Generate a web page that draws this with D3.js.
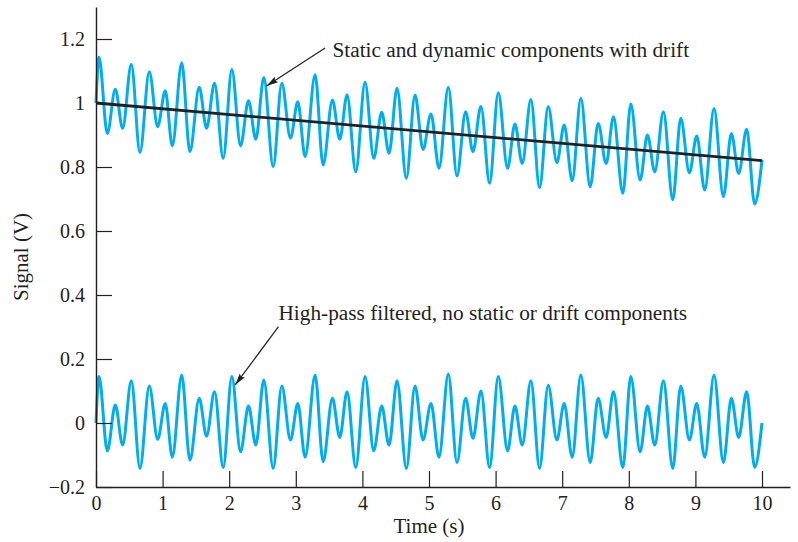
<!DOCTYPE html>
<html><head><meta charset="utf-8">
<script src="https://cdn.jsdelivr.net/npm/d3@7"></script>
<style>
body{margin:0;background:#fff}
svg{display:block}
text{font-family:"Liberation Serif","Times New Roman",serif;fill:#231f20}
</style>
</head><body>
<svg id="chart" width="798" height="542"></svg>
<script>
// ---- data (turning points of each trace) ----
const timeSec = [
  0, 0.045, 0.17, 0.29, 0.40, 0.53, 0.66, 0.80, 0.926, 1.04,
  1.146, 1.287, 1.41, 1.55, 1.66, 1.78, 1.91, 2.04, 2.17, 2.29,
  2.40, 2.52, 2.66, 2.79, 2.92, 3.03, 3.14, 3.29, 3.41, 3.55,
  3.66, 3.77, 3.90, 4.04, 4.17, 4.29, 4.40, 4.52, 4.66, 4.79,
  4.91, 5.03, 5.15, 5.29, 5.42, 5.55, 5.66, 5.78, 5.91, 6.04,
  6.18, 6.29, 6.40, 6.53, 6.66, 6.79, 6.92, 7.03, 7.15, 7.28,
  7.42, 7.54, 7.66, 7.77, 7.91, 8.03, 8.17, 8.28, 8.39, 8.52,
  8.66, 8.78, 8.91, 9.02, 9.14, 9.28, 9.42, 9.54, 9.65, 9.77,
  9.89, 10.0
];
const rawSignal = [
  1.000, 1.143, 0.905, 1.043, 0.921, 1.121, 0.845, 1.098, 0.926, 1.038,
  0.866, 1.126, 0.848, 1.049, 0.921, 1.062, 0.827, 1.105, 0.866, 1.007,
  0.887, 1.080, 0.801, 1.062, 0.890, 1.004, 0.832, 1.088, 0.806, 1.009,
  0.887, 1.025, 0.785, 1.065, 0.827, 0.971, 0.843, 1.046, 0.765, 1.025,
  0.855, 0.966, 0.796, 1.049, 0.772, 0.973, 0.848, 0.989, 0.749, 1.032,
  0.796, 0.934, 0.811, 1.011, 0.735, 0.989, 0.814, 0.931, 0.757, 1.015,
  0.738, 0.936, 0.811, 0.957, 0.718, 0.997, 0.759, 0.900, 0.785, 0.973,
  0.697, 0.952, 0.782, 0.897, 0.728, 0.983, 0.707, 0.905, 0.780, 0.918,
  0.684, 0.822
];
const highPassSignal = [
  0.000, 0.145, -0.087, 0.056, -0.069, 0.132, -0.142, 0.116, -0.051, 0.061,
  -0.107, 0.150, -0.116, 0.077, -0.041, 0.098, -0.139, 0.145, -0.090, 0.053,
  -0.069, 0.134, -0.142, 0.116, -0.053, 0.061, -0.107, 0.150, -0.121, 0.077,
  -0.045, 0.098, -0.139, 0.145, -0.087, 0.053, -0.069, 0.132, -0.142, 0.116,
  -0.053, 0.061, -0.107, 0.153, -0.124, 0.077, -0.048, 0.100, -0.139, 0.145,
  -0.087, 0.053, -0.069, 0.132, -0.142, 0.118, -0.053, 0.061, -0.107, 0.150,
  -0.124, 0.077, -0.045, 0.098, -0.139, 0.145, -0.090, 0.053, -0.069, 0.132,
  -0.142, 0.116, -0.053, 0.061, -0.107, 0.150, -0.124, 0.077, -0.045, 0.098,
  -0.139, 0.000
];
const driftTime = [0, 10];
const driftValue = [1.0, 0.82];
const xTickValues = [0, 1, 2, 3, 4, 5, 6, 7, 8, 9, 10];
const yTickValues = [-0.2, 0, 0.2, 0.4, 0.6, 0.8, 1.0, 1.2];
const xTitle = "Time (s)";
const yTitle = "Signal (V)";
const noteTexts = ["Static and dynamic components with drift",
                   "High-pass filtered, no static or drift components"];
const noteTextPos = [[3.55, 1.145], [2.74, 0.322]];      // [t, V] text start / baseline
const noteArrowFrom = [[3.44, 1.172], [2.74, 0.301]];
const noteArrowTo = [[2.56, 1.053], [2.09, 0.119]];

// ---- drawing ----
const svg = d3.select("#chart");
const ink = "#231f20";
const blue = "#00aeef";

const x = d3.scaleLinear().domain([0, 10]).range([96, 762]);
const xAxisEnd = 790;
const y = d3.scaleLinear().domain([-0.2, 1.3]).range([487, 7]);

const rawData = timeSec.map((t, i) => [t, rawSignal[i]]);
const hpData = timeSec.map((t, i) => [t, highPassSignal[i]]);
const driftData = driftTime.map((t, i) => [t, driftValue[i]]);

const line = d3.line().x(d => x(d[0])).y(d => y(d[1])).curve(d3.curveMonotoneX);

svg.append("path").datum(rawData).attr("d", line)
  .attr("fill", "none").attr("stroke", blue).attr("stroke-width", 3)
  .attr("stroke-linejoin", "round");
svg.append("path").datum(hpData).attr("d", line)
  .attr("fill", "none").attr("stroke", blue).attr("stroke-width", 3)
  .attr("stroke-linejoin", "round");
svg.append("path").datum(driftData).attr("d", d3.line().x(d => x(d[0])).y(d => y(d[1])))
  .attr("fill", "none").attr("stroke", ink).attr("stroke-width", 2.8);

// axes
const xAxisScale = x.copy().domain([0, x.invert(xAxisEnd)]).range([96, xAxisEnd]);
const gx = svg.append("g").attr("transform", `translate(0,${y(-0.2)})`)
  .call(d3.axisBottom(xAxisScale).tickValues(xTickValues).tickFormat(d3.format("d"))
    .tickSizeInner(-16).tickSizeOuter(0).tickPadding(9));
const gy = svg.append("g").attr("transform", `translate(${x(0)},0)`)
  .call(d3.axisLeft(y).tickValues(yTickValues)
    .tickFormat(d => d === 0 ? "0" : d === 1 ? "1" : d3.format(".1f")(d).replace("-", "\u2212"))
    .tickSizeInner(-16).tickSizeOuter(0).tickPadding(11));
[gx, gy].forEach(g => {
  g.select(".domain").attr("stroke", ink).attr("stroke-width", 1.4);
  g.selectAll(".tick line").attr("stroke", ink).attr("stroke-width", 1.2);
  g.selectAll(".tick text").attr("fill", ink)
    .style("font-family", '"Liberation Serif","Times New Roman",serif').style("font-size", "20px");
});

// axis titles
svg.append("text").attr("x", 429).attr("y", 533).attr("text-anchor", "middle")
  .style("font-size", "21px").text(xTitle);
svg.append("text").attr("transform", "translate(28,257) rotate(-90)").attr("text-anchor", "middle")
  .style("font-size", "21px").text(yTitle);

// annotations
svg.append("defs").append("marker").attr("id", "arrow")
  .attr("viewBox", "0 0 12 8").attr("refX", 12).attr("refY", 4)
  .attr("markerWidth", 12).attr("markerHeight", 8).attr("markerUnits", "userSpaceOnUse")
  .attr("orient", "auto")
  .append("path").attr("d", "M0,0.8 L12,4 L0,7.2 L2,4 Z").attr("fill", ink);

noteTexts.forEach((txt, i) => {
  svg.append("text").attr("x", x(noteTextPos[i][0])).attr("y", y(noteTextPos[i][1]))
    .style("font-size", "21.3px").text(txt);
  svg.append("line")
    .attr("x1", x(noteArrowFrom[i][0])).attr("y1", y(noteArrowFrom[i][1]))
    .attr("x2", x(noteArrowTo[i][0])).attr("y2", y(noteArrowTo[i][1]))
    .attr("stroke", ink).attr("stroke-width", 1.2).attr("marker-end", "url(#arrow)");
});
</script>
</body></html>
